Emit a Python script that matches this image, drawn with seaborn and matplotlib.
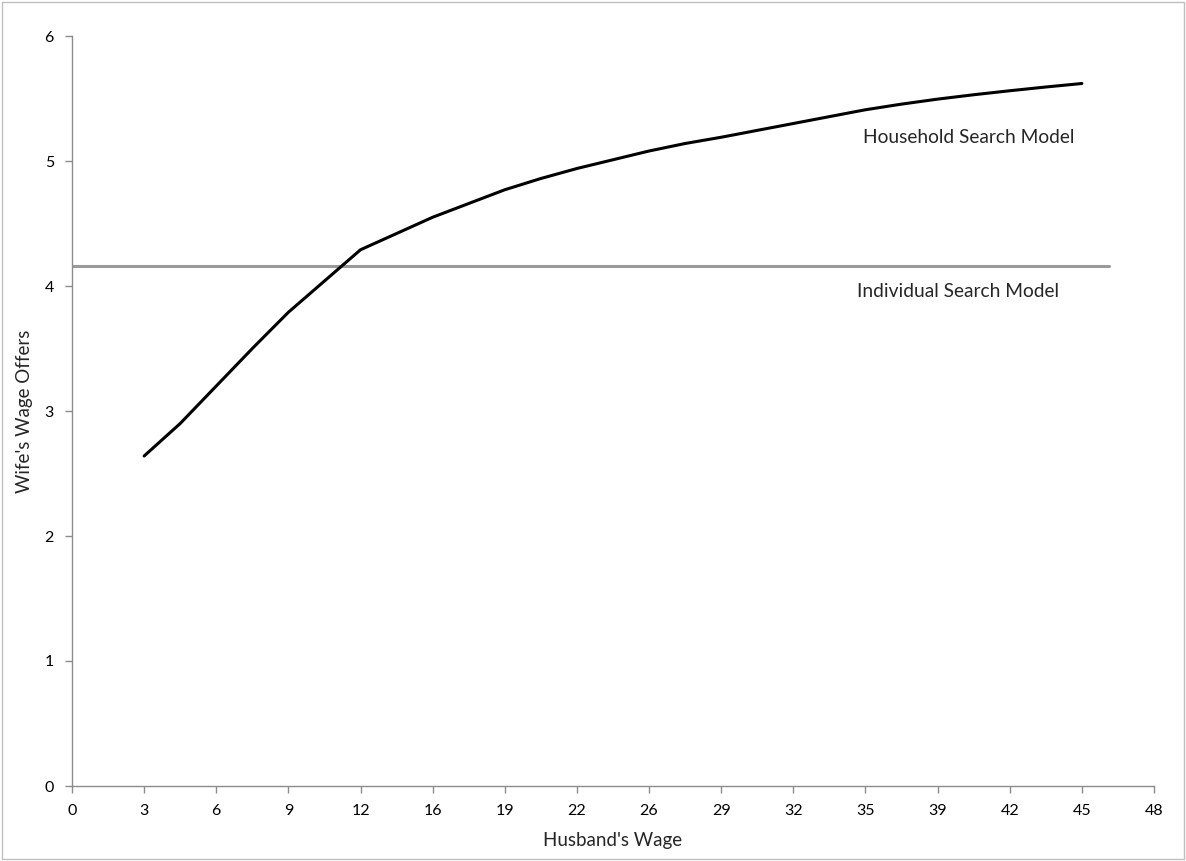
import matplotlib
matplotlib.use("Agg")
import matplotlib.pyplot as plt
import seaborn as sns
import pandas as pd
from matplotlib.patches import Rectangle

# Data
household_x = [3.2, 4.8, 6.4, 8.0, 9.6, 11.2, 12.8, 14.4, 16.0, 17.6, 19.2, 20.8, 22.4,
               24.0, 25.6, 27.2, 28.8, 30.4, 32.0, 33.6, 35.2, 36.8, 38.4, 40.0, 41.6,
               43.2, 44.8]
household_y = [2.64, 2.90, 3.20, 3.50, 3.79, 4.04, 4.29, 4.42, 4.55, 4.66, 4.77, 4.86,
               4.94, 5.01, 5.08, 5.14, 5.19, 5.245, 5.30, 5.355, 5.41, 5.455, 5.495, 5.53,
               5.562, 5.592, 5.62]
individual_x = [0.0, 46.0]
individual_y = [4.16, 4.16]
tick_pos = [i * 3.2 for i in range(16)]
tick_labels = ["0", "3", "6", "9", "12", "16", "19", "22", "26", "29", "32", "35",
               "39", "42", "45", "48"]
y_ticks = [0, 1, 2, 3, 4, 5, 6]

sns.set_theme(style="white")
plt.rcParams['font.family'] = ['Lato', 'DejaVu Sans']

fig = plt.figure(figsize=(11.86, 8.61), dpi=100)
ax = fig.add_axes([72/1186, 1-786/861, (1154-72)/1186, (786-36)/861])

df_h = pd.DataFrame({"x": household_x, "y": household_y})
df_i = pd.DataFrame({"x": individual_x, "y": individual_y})
sns.lineplot(data=df_i, x="x", y="y", ax=ax, color="#9a9a9a", linewidth=2.2)
sns.lineplot(data=df_h, x="x", y="y", ax=ax, color="black", linewidth=2.2)

ax.set_xlim(0, 48)
ax.set_ylim(0, 6)
ax.set_xticks(tick_pos)
ax.set_xticklabels(tick_labels)
ax.set_yticks(y_ticks)
ax.set_yticklabels([str(v) for v in y_ticks])

for s in ["top", "right"]:
    ax.spines[s].set_visible(False)
for s in ["left", "bottom"]:
    ax.spines[s].set_color("#8c8c8c")
    ax.spines[s].set_linewidth(1.0)
ax.tick_params(axis="both", which="major", direction="out", length=5, width=1,
               color="#8c8c8c", labelsize=11.5, labelcolor="black", pad=8,
               bottom=True, left=True)
ax.grid(False)

ax.set_xlabel("Husband's Wage", fontsize=13.5, labelpad=10)
ax.set_ylabel("Wife's Wage Offers", fontsize=13.5, labelpad=8)

ax.text(35.1, 5.19, "Household Search Model", fontsize=13.8, va="center", ha="left")
ax.text(34.83, 3.96, "Individual Search Model", fontsize=13.8, va="center", ha="left")

fig.patches.append(Rectangle((0.002, 0.002), 0.996, 0.996, transform=fig.transFigure,
                             fill=False, edgecolor="#bfbfbf", linewidth=1.0))

fig.savefig("out.png", dpi=100)
